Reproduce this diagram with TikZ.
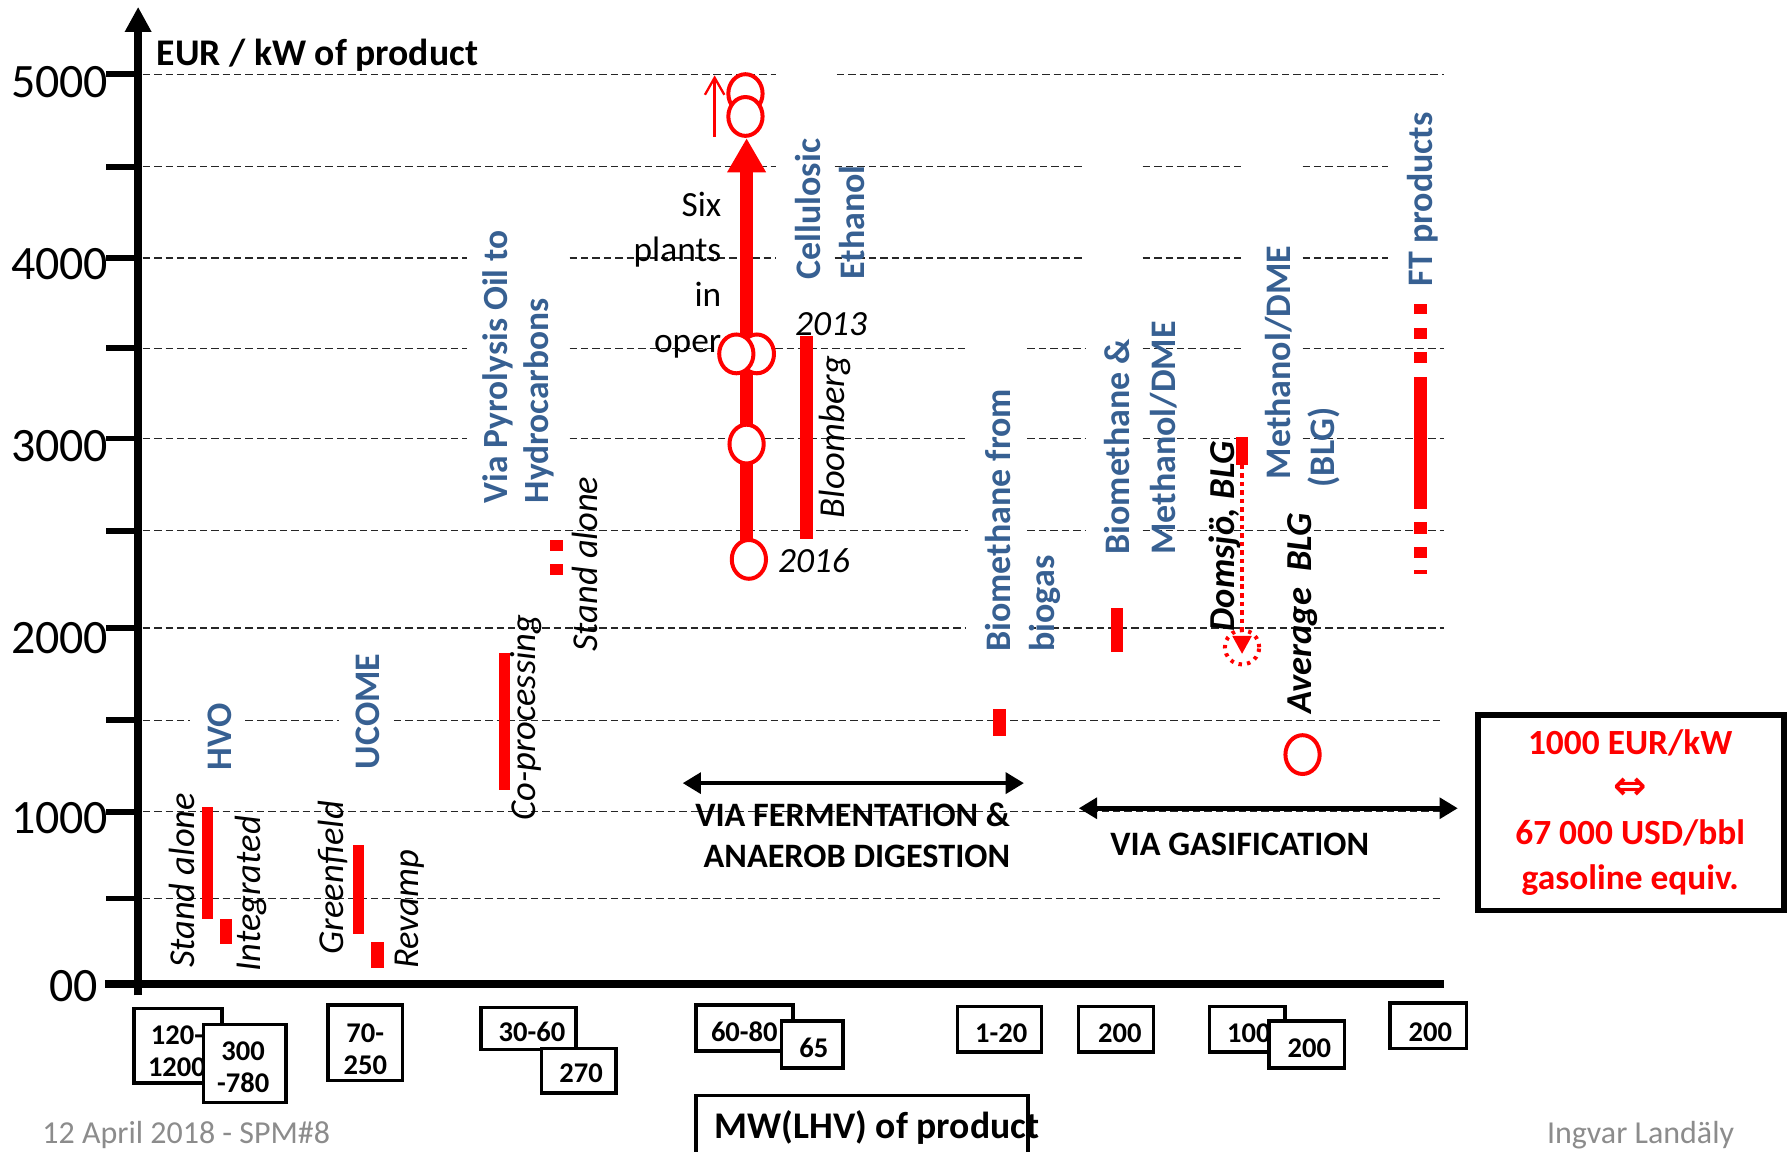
\documentclass[tikz,border=0pt]{standalone}
\usepackage{fontspec}
\setmainfont{Carlito}
\newfontfamily\symfont{DejaVu Sans}
\usetikzlibrary{arrows.meta,shapes.geometric}
\definecolor{labelblue}{HTML}{376092}
\definecolor{footgray}{HTML}{8C8C8C}
\newcommand\fsz[2]{\fontsize{#1}{#2}\selectfont}

\begin{document}
\begin{tikzpicture}[x=1pt,y=-1pt,
  gridline/.style={line width=1.1pt, dash pattern=on 6.5pt off 3.5pt, black!85},
  tickmark/.style={line width=5pt},
  ylab/.style={anchor=east, inner sep=0, font=\fsz{42}{50}},
  bluelab/.style={rotate=90, anchor=west, inner sep=0, align=left, text=labelblue, font=\fsz{31.5}{38}\bfseries},
  note/.style={rotate=90, anchor=west, inner sep=0, font=\fsz{32}{38}\itshape},
  bnote/.style={rotate=90, anchor=west, inner sep=0, font=\fsz{32}{38}\bfseries\itshape},
  valbox/.style={draw, line width=3pt, fill=white, inner sep=0},
  valtext/.style={inner sep=0, align=center, font=\fsz{25}{28}\bfseries},
  ring/.style={draw=red, line width=3.5pt, fill=white, ellipse, inner sep=0, minimum width=30pt, minimum height=34pt},
  redbar/.style={fill=red},
  span/.style={line width=4pt, {Triangle[length=16pt,width=18pt]}-{Triangle[length=16pt,width=18pt]}},
]
\fill[white] (0,0) rectangle (1568,1009);
\useasboundingbox (0,0) rectangle (1568,1009);

% horizontal grid, interrupted behind the label boxes
\draw[gridline] (125,65)--(680,65) (733,65)--(1265,65);
\draw[gridline] (125,146)--(680,146) (731,146)--(951,146) (1001,146)--(1091,146) (1141,146)--(1216,146);
\draw[gridline] (125,226)--(409,226) (499,226)--(680,226) (731,226)--(951,226) (1001,226)--(1091,226) (1141,226)--(1216,226);
\draw[gridline] (125,305)--(409,305) (499,305)--(848,305) (900,305)--(951,305) (1001,305)--(1091,305) (1141,305)--(1265,305);
\draw[gridline] (125,384)--(409,384) (499,384)--(848,384) (900,384)--(951,384) (1001,384)--(1091,384) (1141,384)--(1265,384);
\draw[gridline] (125,465)--(848,465) (900,465)--(951,465) (1001,465)--(1265,465);
\draw[gridline] (125,550)--(846,550) (901,550)--(1265,550);
\draw[gridline] (125,631)--(166,631) (215,631)--(297,631) (345,631)--(1265,631);
\draw[gridline] (125,711)--(1265,711);
\draw[gridline] (125,787)--(1265,787);

% axes
\coordinate (ybot) at (121,872);
\coordinate (ytop) at (121,6);
\coordinate (xleft) at (92,862);
\coordinate (xright) at (1265,862);
\draw[line width=7pt] (xleft) -- (xright);
\draw[line width=7pt, -{Triangle[length=22pt,width=22pt]}] (ybot) -- (ytop);
\foreach \y in {65,146,226,305,384,465,550,631,711,787}
  \draw[tickmark] (93,\y) -- (121,\y);

\node[ylab] (l5000) at (95,72) {5000};
\node[ylab] (l4000) at (95,231) {4000};
\node[ylab] (l3000) at (95,391) {3000};
\node[ylab] (l2000) at (95,559) {2000};
\node[ylab] (l1000) at (95,717) {1000};
\node[ylab] (l0) at (86,864) {00};
\node[anchor=base west, inner sep=0, font=\fsz{33}{39}\bfseries] (yunit) at (137,57) {EUR / kW of product};

% cost ranges
\fill[redbar] (177,707) rectangle (187,805);
\fill[redbar] (193,805) rectangle (203,827);
\fill[redbar] (309,740) rectangle (319,818);
\fill[redbar] (325,825) rectangle (336,848);
\fill[redbar] (437,572) rectangle (447,692);
\fill[redbar] (482,473) rectangle (493,483);
\fill[redbar] (482,494) rectangle (493,504);
\fill[redbar] (701,294) rectangle (712,472);
\fill[redbar] (870,621) rectangle (881,645);
\fill[redbar] (973,533) rectangle (984,571);
\fill[redbar] (1083,383) rectangle (1093,407);
\foreach \a/\b in {266/275,287/297,308/318,330/446,457/468,479/489,499/503}
  \fill[redbar] (1239,\a) rectangle (1250,\b);

% cellulosic ethanol plants
\coordinate (celbase) at (654,490);
\coordinate (celtip) at (654,121);
\draw[red, line width=11pt, -{Triangle[length=30pt,width=32pt]}] (celbase) -- (celtip);
\node[ring] (c2016) at (656,490) {};
\node[ring] (c3000) at (654,389) {};
\node[ring] (c3500b) at (663,310) {};
\node[ring] (c3500a) at (645,310) {};
\node[ring] (c5000a) at (653,82) {};
\node[ring] (c5000b) at (653,102) {};
\coordinate (upfrom) at (626,120);
\coordinate (upto) at (626,66);
\draw[red, line width=2pt, -{Straight Barb[length=15pt,width=17pt]}] (upfrom) -- (upto);
\node[anchor=east, align=right, inner sep=0, font=\fsz{31}{39.5}] (six) at (632,241) {Six\\plants\\in\\oper};
\node[inner sep=0, font=\fsz{31}{37}\itshape] (y2013) at (728,284) {2013};
\node[inner sep=0, font=\fsz{31}{37}\itshape] (y2016) at (713,491) {2016};

% Domsjoe BLG estimate
\coordinate (dmtop) at (1088,407);
\coordinate (dmtip) at (1088,573);
\draw[red, line width=4pt, dash pattern=on 4pt off 3.5pt, -{Triangle[length=16pt,width=16pt]}] (dmtop) -- (dmtip);
\node[draw=red, circle, line width=3.5pt, dash pattern=on 3pt off 4.5pt, minimum size=30pt, inner sep=0] (dmring) at (1088,567) {};
\node[ring, fill=none] (avg) at (1141,661) {};

% category labels
\node[bluelab] (hvo) at (193,675) {HVO};
\node[bluelab] (ucome) at (322,674) {UCOME};
\node[bluelab, font=\fsz{31}{36}\bfseries] (pyro) at (454,441) {Via Pyrolysis Oil to\\Hydrocarbons};
\node[bluelab] (cell) at (727,245) {Cellulosic\\Ethanol};
\node[bluelab] (biogas) at (896,571) {Biomethane from\\biogas};
\node[bluelab, font=\fsz{31.5}{40}\bfseries] (biometh) at (999,486) {Biomethane \&\\Methanol/DME};
\node[bluelab] (mdme) at (1120,420) {Methanol/DME};
\node[bluelab] (blg) at (1160,427) {(BLG)};
\node[bluelab] (ft) at (1246,251) {FT products};

\node[note] (hvosa) at (159,848) {Stand alone};
\node[note] (hvoint) at (220,851) {Integrated};
\node[note] (green) at (292,836) {Greenfield};
\node[note] (revamp) at (359,849) {Revamp};
\node[note] (coproc) at (461,719) {Co-processing};
\node[note] (pyrosa) at (512,571) {Stand alone};
\node[note] (bloom) at (731,454) {Bloomberg};
\node[bnote] (domsjo) at (1073,553) {Domsjö, BLG};
\node[bnote] (avgblg) at (1141,625) {Average~~BLG};

% process routes
\coordinate (fermL) at (598,686);
\coordinate (fermR) at (897,686);
\draw[span] (fermL) -- (fermR);
\node[anchor=east, align=right, inner sep=0, font=\fsz{30}{36}\bfseries] (ferm) at (885,732) {VIA FERMENTATION \&\\ANAEROB DIGESTION};
\coordinate (gasL) at (945,708);
\coordinate (gasR) at (1277,708);
\draw[span] (gasL) -- (gasR);
\node[inner sep=0, font=\fsz{30}{36}\bfseries] (gas) at (1086,740) {VIA GASIFICATION};

% conversion note
\node[draw, line width=5pt, minimum width=268pt, minimum height=171pt, inner sep=0] (convbox) at (1428.5,712) {};
\node[text=red, align=center, inner sep=0, font=\fsz{31}{39.5}\bfseries] (conv) at (1428,712)
  {1000 EUR/kW\\{\symfont\fsz{35}{39.5}⇔}\\67 000 USD/bbl\\gasoline equiv.};

% plant sizes
\node[valbox, minimum width=77pt, minimum height=65pt] (b1) at (156,916) {};
\node[valtext] (t1) at (155,921) {120-\\1200};
\node[valbox, minimum width=72pt, minimum height=68pt] (b2) at (214.5,931.5) {};
\node[valtext] (t2) at (213,935) {300\\-780};
\node[valbox, minimum width=65pt, minimum height=66pt] (b3) at (320,913.5) {};
\node[valtext] (t3) at (320,919) {70-\\250};
\node[valbox, minimum width=83pt, minimum height=37pt] (b4) at (463,901) {};
\node[valtext] (t4) at (466,904) {30-60};
\node[valbox, minimum width=65pt, minimum height=39pt] (b5) at (507,938) {};
\node[valtext] (t5) at (509,940) {270};
\node[valbox, minimum width=85pt, minimum height=40pt] (b6) at (652,900.5) {};
\node[valtext] (t6) at (652,904) {60-80};
\node[valbox, minimum width=54pt, minimum height=41pt] (b7) at (711.5,915) {};
\node[valtext] (t7) at (713,918) {65};
\node[valbox, minimum width=74pt, minimum height=40pt] (b8) at (875.5,901.5) {};
\node[valtext] (t8) at (877,905) {1-20};
\node[valbox, minimum width=66pt, minimum height=40pt] (b9) at (977.5,901.5) {};
\node[valtext] (t9) at (981,905) {200};
\node[valbox, minimum width=66pt, minimum height=40pt] (b10) at (1092.5,901.5) {};
\node[valtext] (t10) at (1094,905) {100};
\node[valbox, minimum width=66pt, minimum height=41pt] (b11) at (1144.5,915) {};
\node[valtext] (t11) at (1147,918) {200};
\node[valbox, minimum width=67pt, minimum height=40pt] (b12) at (1251,898.5) {};
\node[valtext] (t12) at (1253,904) {200};

\node[valbox, minimum width=291pt, minimum height=51pt] (mwbox) at (755,985) {};
\node[anchor=west, inner sep=0, font=\fsz{33}{39}\bfseries] (mwtext) at (626,988) {MW(LHV) of product};

% footer
\node[anchor=base west, inner sep=0, text=footgray, font=\fsz{28}{34}] (date) at (37,1002) {12 April 2018 - SPM\#8};
\node[anchor=base west, inner sep=0, text=footgray, font=\fsz{28}{34}] (author) at (1355,1002) {Ingvar Landäly};
\end{tikzpicture}
\end{document}
